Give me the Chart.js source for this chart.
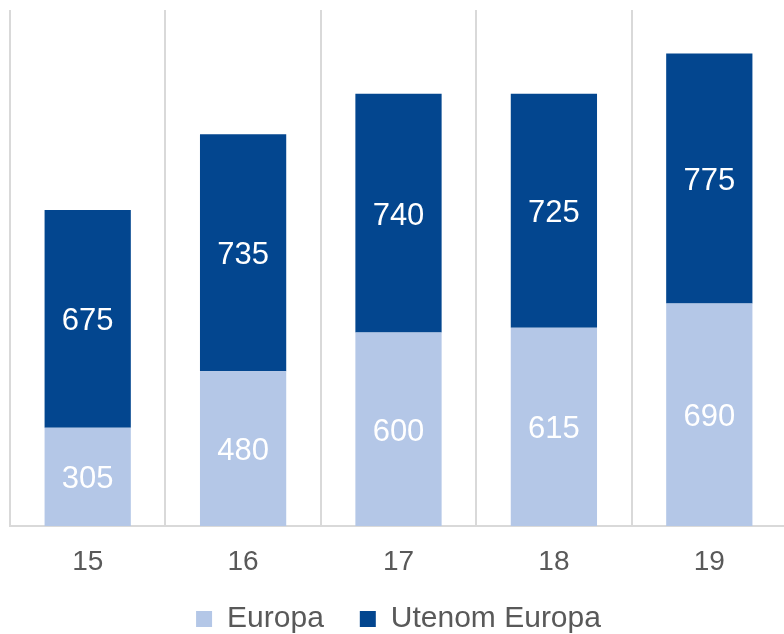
<!DOCTYPE html>
<html>
<head>
<meta charset="utf-8">
<script src="https://cdn.jsdelivr.net/npm/chart.js@4"></script>
<style>
  html, body { margin: 0; padding: 0; background: #fff; overflow: hidden; }
  #wrap { width: 787px; height: 634px; }
</style>
</head>
<body>
<div id="wrap"><canvas id="chart" width="787" height="634"></canvas></div>
<script>
const labels = ["15", "16", "17", "18", "19"];
const europa = [305, 480, 600, 615, 690];
const utenomEuropa = [675, 735, 740, 725, 775];

const fontFamily = "'Liberation Sans', Arial, sans-serif";

// skriv verdiene midt i hver søyle
const barLabels = {
  id: "barLabels",
  afterDatasetsDraw(chart) {
    const ctx = chart.ctx;
    ctx.save();
    ctx.font = "31px " + fontFamily;
    ctx.textAlign = "center";
    ctx.textBaseline = "middle";
    chart.data.datasets.forEach((ds, i) => {
      const meta = chart.getDatasetMeta(i);
      meta.data.forEach((bar, j) => {
        const y = (bar.y + bar.base) / 2;
        ctx.fillStyle = "#ffffff";
        ctx.fillText(ds.data[j], bar.x, y + 3);
      });
    });
    ctx.restore();
  }
};

// fast høyde på legenden, og plass til x-etikettene
const layoutFix = {
  id: "layoutFix",
  afterInit(chart) {
    const lg = chart.legend;
    const fit = lg.fit.bind(lg);
    lg.fit = function () {
      fit();
      this.height = 66;
    };
  },
  afterLayout(chart) {
    chart.scales.x.bottom = 600;
  }
};

const config = {
  type: "bar",
  data: {
    labels: labels,
    datasets: [
      {
        label: "Europa",
        data: europa,
        backgroundColor: "#B4C7E7",
        barPercentage: 1,
        categoryPercentage: 0.555,
      },
      {
        label: "Utenom Europa",
        data: utenomEuropa,
        backgroundColor: "#03468F",
        barPercentage: 1,
        categoryPercentage: 0.555,
      },
    ],
  },
  options: {
    responsive: false,
    animation: false,
    layout: { padding: { left: 10, right: 0, top: 10, bottom: 0 } },
    scales: {
      x: {
        stacked: true,
        grid: { display: true, offset: true, color: "#D9D9D9", lineWidth: 2, drawTicks: false },
        border: { display: true, color: "#D9D9D9", width: 2 },
        ticks: {
          color: "#595959",
          padding: 19,
          font: { size: 28, family: fontFamily },
        },
        afterFit(scale) {
          scale.height = 42;
        },
      },
      y: {
        stacked: true,
        display: false,
        min: 0,
        max: 1600,
      },
    },
    plugins: {
      legend: {
        position: "bottom",
        labels: {
          color: "#595959",
          boxWidth: 16,
          boxHeight: 16,
          padding: 36,
          font: { size: 30, family: fontFamily },
        },
      },
      tooltip: { enabled: false },
    },
  },
  plugins: [barLabels, layoutFix],
};

new Chart(document.getElementById("chart"), config);
</script>
</body>
</html>
